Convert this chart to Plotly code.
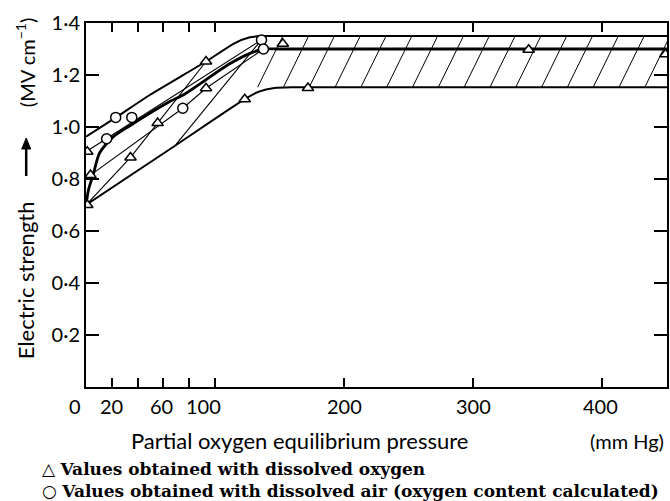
import plotly.graph_objects as go

# ---- measured points: partial O2 pressure (mm Hg) vs electric strength (MV/cm)
oxygen_p = [1, 1, 3.5, 34.5, 55.5, 93, 93, 123, 152.5, 172, 343, 449]
oxygen_e = [0.905, 0.70, 0.815, 0.883, 1.015, 1.252, 1.149, 1.107, 1.32, 1.15, 1.297, 1.28]
air_p = [16, 23, 35.5, 75, 136, 137.5]
air_e = [0.955, 1.037, 1.037, 1.072, 1.335, 1.30]

# ---- envelope of the scatter band
upper_p = [0, 23, 50, 93, 115, 127, 136, 150, 451]
upper_e = [0.963, 1.036, 1.125, 1.252, 1.322, 1.345, 1.35, 1.35, 1.35]
lower_p = [0, 69, 123, 134, 146, 160, 451]
lower_e = [0.70, 0.928, 1.107, 1.136, 1.150, 1.153, 1.153]

# ---- mean curve
mean_p = [0, 2, 5.5, 10.5, 21, 34, 50, 65, 76, 111, 128, 138, 150, 451]
mean_e = [0.70, 0.76, 0.815, 0.90, 0.962, 1.005, 1.055, 1.098, 1.125, 1.242, 1.285, 1.30, 1.30, 1.30]

# ---- individual runs
run_a_p = [0, 136]
run_a_e = [0.905, 1.335]
run_b_p = [0, 34.5, 55.5, 93]
run_b_e = [0.70, 0.883, 1.015, 1.252]
run_c_p = [3.5, 75, 93, 137.5]
run_c_e = [0.815, 1.072, 1.149, 1.30]
run_d_p = [69, 135.5]
run_d_e = [0.928, 1.333]

# ---- axis labels
x_ticks = [0, 20, 40, 60, 80, 100, 200, 300, 400]
x_label_vals = [0, 20, 60, 100, 200, 300, 400]
x_label_text = ["0", "20", "60", "100", "200", "300", "400"]
y_ticks = [0.2, 0.4, 0.6, 0.8, 1.0, 1.2, 1.4]
y_tick_text = ["0·2", "0·4", "0·6", "0·8", "1·0", "1·2", "1·4"]

X_MAX = 450.2
BAND_LO, BAND_HI = 1.153, 1.35

W, H = 670, 501
ML, MR, MT, MB = 86, 1, 23, 114
PW, PH = W - ML - MR, H - MT - MB


def px_x(px):
    return (px - ML) / PW


def px_y(py):
    return (H - MB - py) / PH


fig = go.Figure()

# diagonal hatching across the flat part of the band
hx, hy = [], []
for x0 in range(133, 451, 20):
    hx += [x0, x0 + 19.5, None]
    hy += [BAND_LO, BAND_HI, None]
fig.add_trace(go.Scatter(x=hx, y=hy, mode="lines",
                         line=dict(color="black", width=1), hoverinfo="skip"))

for px_, ey_ in [(run_a_p, run_a_e), (run_b_p, run_b_e),
                 (run_c_p, run_c_e), (run_d_p, run_d_e)]:
    fig.add_trace(go.Scatter(x=px_, y=ey_, mode="lines",
                             line=dict(color="black", width=1.1)))

fig.add_trace(go.Scatter(x=upper_p, y=upper_e, mode="lines",
                         line=dict(color="black", width=2, shape="spline", smoothing=0.6)))
fig.add_trace(go.Scatter(x=lower_p, y=lower_e, mode="lines",
                         line=dict(color="black", width=2, shape="spline", smoothing=0.6)))
fig.add_trace(go.Scatter(x=mean_p, y=mean_e, mode="lines",
                         line=dict(color="black", width=2.8, shape="spline", smoothing=0.7)))

fig.add_trace(go.Scatter(x=oxygen_p, y=oxygen_e, mode="markers", cliponaxis=True,
                         marker=dict(symbol="triangle-up", size=10, color="white",
                                     line=dict(color="black", width=1.5))))
fig.add_trace(go.Scatter(x=air_p, y=air_e, mode="markers", cliponaxis=True,
                         marker=dict(symbol="circle", size=10, color="white",
                                     line=dict(color="black", width=1.5))))

tick_font = dict(family="Lato", size=20, color="black")
title_font = dict(family="Lato", size=22, color="black")
unit_font = dict(family="Lato", size=20, color="black")
legend_font = dict(family="DejaVu Serif", size=17, color="black")

ann = []
# x tick labels
x_shift = [-11, 0, -2, -12, 0, 0, -2]
for v, t, s in zip(x_label_vals, x_label_text, x_shift):
    ann.append(dict(x=v, y=px_y(406), xref="x", yref="paper", text=t, showarrow=False,
                    xanchor="center", yanchor="middle", xshift=s, font=tick_font))

# axis titles
ann.append(dict(x=px_x(300), y=px_y(441), xref="paper", yref="paper",
                text="Partial oxygen equilibrium pressure", showarrow=False,
                xanchor="center", yanchor="middle", font=title_font))
ann.append(dict(x=px_x(668), y=px_y(441), xref="paper", yref="paper",
                text="(mm Hg)", showarrow=False,
                xanchor="right", yanchor="middle", font=unit_font))
ann.append(dict(x=px_x(25), y=px_y(280), xref="paper", yref="paper",
                text="Electric strength", showarrow=False, textangle=-90,
                xanchor="center", yanchor="middle", font=title_font))
ann.append(dict(x=px_x(25), y=px_y(63), xref="paper", yref="paper",
                text="(MV cm<sup>−1</sup>)", showarrow=False, textangle=-90,
                xanchor="center", yanchor="middle", font=unit_font))

# symbol key below the chart
ann.append(dict(x=px_x(40), y=px_y(480), xref="paper", yref="paper",
                text="△ <b>Values obtained with dissolved oxygen</b><br>"
                     "○ <b>Values obtained with dissolved air (oxygen content calculated)</b>",
                showarrow=False, xanchor="left", yanchor="middle", align="left",
                font=legend_font))

# upward arrow between the two parts of the y-axis title
ax_c = px_x(26)
arrow_shapes = [
    dict(type="line", xref="paper", yref="paper",
         x0=ax_c, x1=ax_c, y0=px_y(176), y1=px_y(146),
         line=dict(color="black", width=2.5)),
    dict(type="path", xref="paper", yref="paper",
         path=(f"M {px_x(21.5)} {px_y(149)} L {px_x(30.5)} {px_y(149)} "
               f"L {ax_c} {px_y(138)} Z"),
         fillcolor="black", line=dict(color="black", width=1)),
]

fig.update_layout(
    width=W, height=H,
    margin=dict(l=ML, r=MR, t=MT, b=MB),
    paper_bgcolor="white", plot_bgcolor="white",
    showlegend=False,
    annotations=ann,
    shapes=arrow_shapes,
    xaxis=dict(range=[0, X_MAX], tickvals=x_ticks, showticklabels=False,
               ticks="inside", ticklen=9, tickwidth=1.5, tickcolor="black",
               showline=True, linewidth=2, linecolor="black", mirror="ticks",
               showgrid=False, zeroline=False),
    yaxis=dict(range=[0, 1.4], tickvals=y_ticks, ticktext=y_tick_text,
               ticks="inside", ticklen=13, tickwidth=1.5, tickcolor="black",
               showline=True, linewidth=2, linecolor="black", mirror="ticks",
               showgrid=False, zeroline=False, tickfont=tick_font),
)

fig.write_html("out.html")
